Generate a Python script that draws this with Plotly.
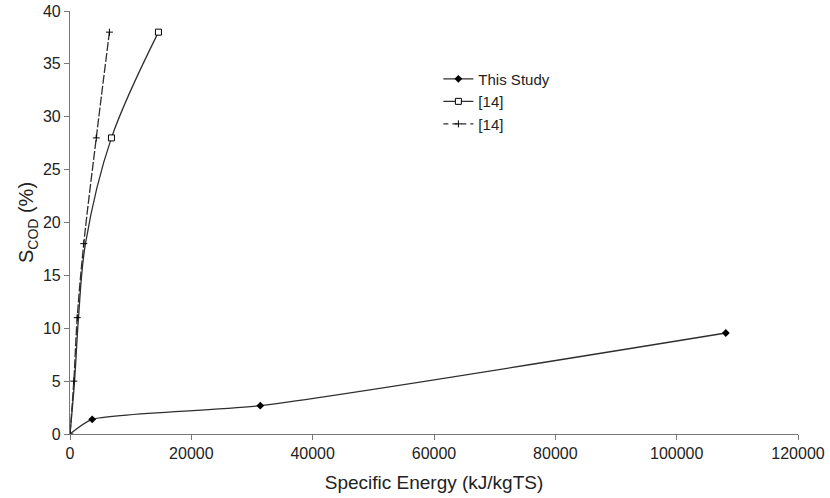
import plotly.graph_objects as go

# This Study
study_x = [0, 3660, 31370, 108100]
study_y = [0, 1.39, 2.68, 9.55]
study_marked = [False, True, True, True]

# [14] squares
sq_x = [0, 750, 1400, 2550, 6830, 14580]
sq_y = [0, 5, 11, 18, 28, 38]
sq_marked = [False, False, False, False, True, True]

# [14] plus
pl_x = [0, 630, 1190, 2270, 4330, 6500]
pl_y = [0, 5, 11, 18, 28, 38]

x_ticks = [0, 20000, 40000, 60000, 80000, 100000, 120000]
y_ticks = [0, 5, 10, 15, 20, 25, 30, 35, 40]

line_col = "#2e2e2e"
dash_pat = "9px,2px"

study_marker = dict(symbol="diamond", color="black", size=6)
sq_marker = dict(symbol="square", color="white", line=dict(color="black", width=1), size=6)
pl_marker = dict(symbol="cross-thin", size=5, line=dict(color="black", width=1))

fig = go.Figure()

# curves
fig.add_trace(go.Scatter(
    x=study_x, y=study_y, mode="lines", showlegend=False,
    line=dict(color=line_col, width=1.3, shape="spline", smoothing=0.6),
))
fig.add_trace(go.Scatter(
    x=sq_x, y=sq_y, mode="lines", showlegend=False,
    line=dict(color=line_col, width=1.3, shape="spline", smoothing=1),
))
fig.add_trace(go.Scatter(
    x=pl_x, y=pl_y, mode="lines+markers", showlegend=False,
    line=dict(color=line_col, width=1.3, shape="spline", smoothing=1, dash=dash_pat),
    marker=pl_marker,
))
# marked points
fig.add_trace(go.Scatter(
    x=[x for x, m in zip(study_x, study_marked) if m],
    y=[y for y, m in zip(study_y, study_marked) if m],
    mode="markers", showlegend=False, marker=study_marker,
))
fig.add_trace(go.Scatter(
    x=[x for x, m in zip(sq_x, sq_marked) if m],
    y=[y for y, m in zip(sq_y, sq_marked) if m],
    mode="markers", showlegend=False, marker=sq_marker,
))
# legend entries
fig.add_trace(go.Scatter(x=[None], y=[None], name="This Study", mode="lines+markers",
                         line=dict(color=line_col, width=1.3), marker=study_marker))
fig.add_trace(go.Scatter(x=[None], y=[None], name="[14]", mode="lines+markers",
                         line=dict(color=line_col, width=1.3), marker=sq_marker))
fig.add_trace(go.Scatter(x=[None], y=[None], name="[14]", mode="lines+markers",
                         line=dict(color=line_col, width=1.3, dash="5px,4px"), marker=pl_marker))

axis_common = dict(
    showgrid=False, zeroline=False, showline=True, linecolor="#777777", linewidth=1.2,
    ticks="outside", tickcolor="#777777", ticklen=5, tickwidth=1.2, automargin=False,
    tickfont=dict(family="Liberation Sans, Arial", size=16, color="#222222"),
)

fig.update_layout(
    width=830, height=498,
    margin=dict(l=70, r=32, t=11, b=64),
    paper_bgcolor="white", plot_bgcolor="white",
    font=dict(family="Liberation Sans, Arial", color="#222222"),
    xaxis=dict(range=[0, 120000], tickvals=x_ticks, ticktext=[str(v) for v in x_ticks],
               title=dict(text="Specific Energy (kJ/kgTS)", font=dict(size=19), standoff=14),
               **axis_common),
    yaxis=dict(range=[0, 40], tickvals=y_ticks, ticktext=[str(v) for v in y_ticks],
               title=dict(text="S<sub>COD</sub> (%)", font=dict(size=20), standoff=3),
               **axis_common),
    legend=dict(x=0.506, y=0.878, xanchor="left", yanchor="top", bgcolor="rgba(0,0,0,0)",
                font=dict(size=15), itemwidth=30, tracegroupgap=0),
    showlegend=True,
)

fig.write_html("out.html")
